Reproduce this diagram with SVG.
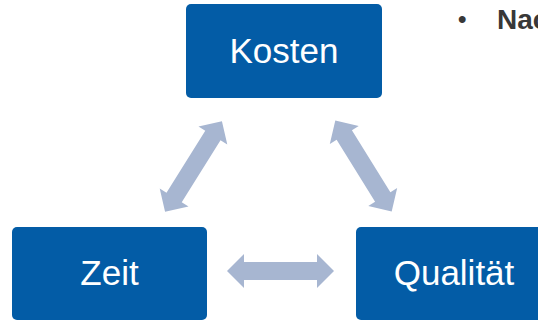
<svg xmlns="http://www.w3.org/2000/svg" width="538" height="321" viewBox="0 0 538 321">
<defs>
<style>
.box{fill:#035CA6;}
.lbl{font-family:"Liberation Sans",Arial,sans-serif;font-size:35px;fill:#ffffff;text-anchor:middle;}
.arr{fill:#A7B6D1;}
.bul{font-family:"Liberation Sans",Arial,sans-serif;font-weight:bold;fill:#383838;}
</style>
<polygon id="dbl" points="-53.5,0 -36.5,-17 -36.5,-9 36.5,-9 36.5,-17 53.5,0 36.5,17 36.5,9 -36.5,9 -36.5,17"/>
</defs>
<g id="connectors">
<use href="#dbl" class="arr" transform="translate(280.5,271)"/>
<use href="#dbl" class="arr" transform="translate(193.5,166.5) rotate(-57.9)"/>
<use href="#dbl" class="arr" transform="translate(363.5,166) rotate(58.2)"/>
</g>
<g id="kosten">
<rect class="box" x="186" y="4" width="196" height="94" rx="5"/>
<text class="lbl" x="284" y="63">Kosten</text>
</g>
<g id="zeit">
<rect class="box" x="12" y="227" width="195" height="93" rx="5"/>
<text class="lbl" x="109.5" y="285">Zeit</text>
</g>
<g id="qualitaet">
<rect class="box" x="356" y="227" width="196" height="93" rx="5"/>
<text class="lbl" x="454" y="285">Qualität</text>
</g>
<g id="bullet">
<text class="bul" x="458" y="27" font-size="24">•</text>
<text class="bul" x="497" y="29" font-size="28">Nac</text>
</g>
</svg>
